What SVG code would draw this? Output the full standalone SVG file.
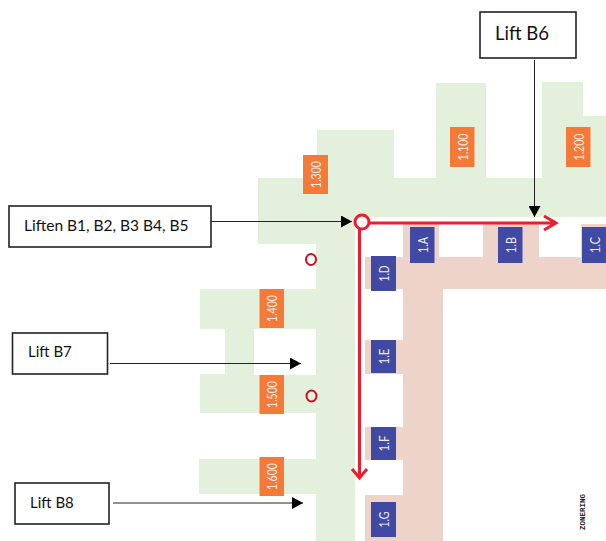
<svg xmlns="http://www.w3.org/2000/svg" width="606" height="541" viewBox="0 0 606 541">
<style>
.zone{fill:#e3f0dc}
.core{fill:#eed3c8}
.o{fill:#f57a38}
.b{fill:#4049a3}
.t{fill:#f4eee8;font:13px "Lato","Liberation Sans",sans-serif;text-anchor:middle}
.box{fill:#fff;stroke:#222;stroke-width:1.6}
.lb{fill:#111;font:15.5px "Lato","Liberation Sans",sans-serif}
.ln{fill:none;stroke:#222;stroke-width:1}
.red{fill:none;stroke:#ee1c2e;stroke-width:3}
.ring{fill:none;stroke:#c9111f;stroke-width:2}
</style>
<defs>
<marker id="tri" markerUnits="userSpaceOnUse" markerWidth="12" markerHeight="12" refX="11" refY="6" orient="auto"><path d="M0 0L11 6L0 12Z" fill="#000"/></marker>
</defs>
<rect width="606" height="541" fill="#fff"/>
<g id="floor">
<path class="zone" d="M317 130H394V178H436V83H486V178H542V82H583V116H606V217H355V541H316V494H199V459H316V413H200V374H225V329H200V289H316V244H258V178H317Z"/>
<path fill="#fff" d="M254 329H316V375H254Z"/>
<path class="core" d="M403 224H439V257H483V224H539V257H581V224H606V289H443V541H365V495H403V460H365V427H403V374H365V340H403V289H365V257H403Z"/>
</g>
<g id="zone-1300"><rect class="o" x="303" y="155" width="25" height="39"/><text class="t" textLength="27" lengthAdjust="spacingAndGlyphs" transform="translate(321 174.500) rotate(-90)">1.300</text></g>
<g id="zone-1100"><rect class="o" x="450" y="127" width="24.500" height="40"/><text class="t" textLength="27" lengthAdjust="spacingAndGlyphs" transform="translate(467.500 147) rotate(-90)">1.100</text></g>
<g id="zone-1200"><rect class="o" x="566" y="127" width="24.500" height="40"/><text class="t" textLength="27" lengthAdjust="spacingAndGlyphs" transform="translate(583.500 147) rotate(-90)">1.200</text></g>
<g id="zone-1400"><rect class="o" x="259.500" y="289" width="24.500" height="39"/><text class="t" textLength="27" lengthAdjust="spacingAndGlyphs" transform="translate(277 308.500) rotate(-90)">1.400</text></g>
<g id="zone-1500"><rect class="o" x="259.500" y="375" width="24.500" height="39"/><text class="t" textLength="27" lengthAdjust="spacingAndGlyphs" transform="translate(277 394.500) rotate(-90)">1.500</text></g>
<g id="zone-1600"><rect class="o" x="259.500" y="457" width="24.500" height="39"/><text class="t" textLength="27" lengthAdjust="spacingAndGlyphs" transform="translate(277 476.500) rotate(-90)">1.600</text></g>
<g id="core-1A"><rect class="b" x="410" y="227" width="24.500" height="36"/><text class="t" textLength="16" lengthAdjust="spacingAndGlyphs" transform="translate(427.500 245) rotate(-90)">1.A</text></g>
<g id="core-1B"><rect class="b" x="498" y="227" width="24.500" height="36"/><text class="t" textLength="16" lengthAdjust="spacingAndGlyphs" transform="translate(515.500 245) rotate(-90)">1.B</text></g>
<g id="core-1C"><rect class="b" x="582" y="227" width="24" height="36"/><text class="t" textLength="16" lengthAdjust="spacingAndGlyphs" transform="translate(599.500 245) rotate(-90)">1.C</text></g>
<g id="core-1D"><rect class="b" x="371" y="256" width="25" height="35"/><text class="t" textLength="16" lengthAdjust="spacingAndGlyphs" transform="translate(388.500 273.500) rotate(-90)">1.D</text></g>
<g id="core-1E"><rect class="b" x="371" y="340" width="25" height="33"/><text class="t" textLength="16" lengthAdjust="spacingAndGlyphs" transform="translate(388.500 356.500) rotate(-90)">1.E</text></g>
<g id="core-1F"><rect class="b" x="371" y="427" width="25" height="33"/><text class="t" textLength="16" lengthAdjust="spacingAndGlyphs" transform="translate(388.500 443.500) rotate(-90)">1.F</text></g>
<g id="core-1G"><rect class="b" x="371" y="502" width="25" height="35"/><text class="t" textLength="16" lengthAdjust="spacingAndGlyphs" transform="translate(388.500 519.500) rotate(-90)">1.G</text></g>
<g id="route">
<path class="red" d="M369 223H556M544 216L556 223L544 230M359.500 229V478M352 469L359.500 478L367 469"/>
<circle class="red" cx="362" cy="222" r="7" style="fill:#fff"/>
</g>
<g id="lift-b-a"><ellipse class="ring" cx="311" cy="259.500" rx="5" ry="5.500"/></g>
<g id="lift-b-b"><ellipse class="ring" cx="311.500" cy="396" rx="5" ry="5.500"/></g>
<g id="connectors">
<path class="ln" d="M211 221.500H352" marker-end="url(#tri)"/>
<path class="ln" d="M534.500 60V217" marker-end="url(#tri)"/>
<path class="ln" d="M110 363.500H301" marker-end="url(#tri)"/>
<path class="ln" d="M113 503H303" marker-end="url(#tri)"/>
</g>
<g id="lift-b6"><rect class="box" x="480" y="12" width="96" height="46"/><text class="lb" x="495" y="39.500" style="font-size:18.500px">Lift B6</text></g>
<g id="liften-b1-b5"><rect class="box" x="9" y="206" width="202" height="41"/><text class="lb" x="24" y="231">Liften B1, B2, B3 B4, B5</text></g>
<g id="lift-b7"><rect class="box" x="12.500" y="333" width="95" height="41"/><text class="lb" x="28" y="357" style="font-size:15px">Lift B7</text></g>
<g id="lift-b8"><rect class="box" x="15" y="483" width="94" height="41"/><text class="lb" x="30" y="508" style="font-size:15px">Lift B8</text></g>
<text transform="translate(585 530) rotate(-90)" style="font:bold 7.500px 'Liberation Mono',monospace" fill="#222">ZONERING</text>
</svg>
